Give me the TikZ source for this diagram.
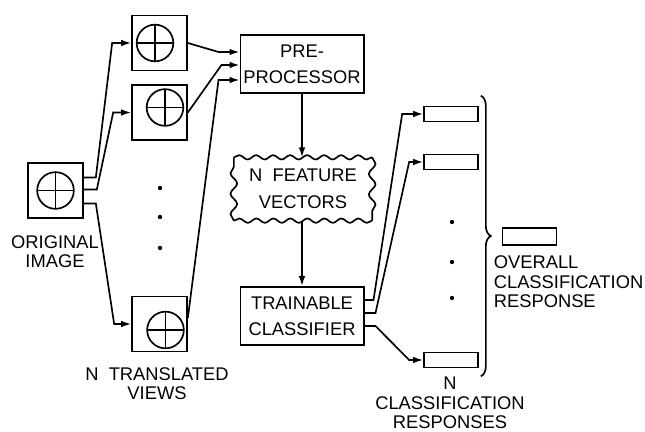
\documentclass[tikz,border=0pt]{standalone}
\usepackage{fontspec}
\setmainfont{Liberation Sans}
\usetikzlibrary{arrows.meta, positioning, calc, decorations.pathmorphing, decorations.pathreplacing}

\begin{document}
\begin{tikzpicture}[
        x=0.6pt, y=-0.6pt,
        line width=1pt,
        frame/.style={rectangle, draw, inner sep=0pt, minimum size=33pt},
        block/.style={rectangle, draw, inner sep=0pt,
                      minimum width=74pt, minimum height=35pt,
                      align=center, font=\fontsize{11}{15.6}\selectfont},
        cloudy/.style={rectangle, inner sep=0pt,
                       minimum width=82pt, minimum height=37pt,
                       align=center, font=\fontsize{11}{16.5}\selectfont},
        wavy/.style={decorate, decoration={snake, amplitude=1.3pt, segment length=10.2pt}},
        wavyside/.style={decorate, decoration={snake, amplitude=2pt, segment length=12.3pt}},
        slot/.style={rectangle, draw, inner sep=0pt,
                     minimum width=32.4pt, minimum height=9pt},
        lbl/.style={align=center, inner sep=0pt, font=\fontsize{11}{11.6}\selectfont},
        arrow/.style={-{Latex[length=6pt, width=4pt]}},
        pics/target/.style={code={
            \draw (0,0) circle (11pt);
            \draw (-11pt,0) -- (11pt,0) (0,-11pt) -- (0,11pt);
        }},
    ]
    \useasboundingbox (0,0) rectangle (645,432);

    % original image and translated views
    \node[frame] (orig) at (55.5,190.5) {};
    \node[frame] (view1) at (159.5,43) {};
    \node[frame] (view2) at (159.5,112.5) {};
    \node[frame] (viewN) at (159.5,324) {};
    \pic at (orig) {target};
    \pic at ($(view1)+(-4.5,0)$) {target};
    \pic at ($(view2)+(5.5,-5)$) {target};
    \pic at ($(viewN)+(6,6)$) {target};
    \foreach \y in {188,217,248}
        \fill (160,\y) circle (1.3pt);

    \node[lbl] (origtxt) at (55,252) {ORIGINAL\\IMAGE};
    \node[lbl] (viewtxt) at (157,384) {N\ \ TRANSLATED\\VIEWS};

    % processing chain
    \node[block] (pre) at (302,64) {PRE-\\PROCESSOR};
    \node[cloudy] (feat) at (303,189) {N\ \ FEATURE\\VECTORS};
    \draw[wavy] (feat.north west) -- (feat.north east);
    \draw[wavy] (feat.south east) -- (feat.south west);
    \draw[wavyside] (feat.north east) -- (feat.south east);
    \draw[wavyside] (feat.south west) -- (feat.north west);
    \node[block] (clf) at (302,316) {TRAINABLE\\CLASSIFIER};

    % responses
    \node[slot] (resp1) at (451,114) {};
    \node[slot] (resp2) at (451,162) {};
    \node[slot] (respN) at (451,360) {};
    \node[slot, minimum height=10pt] (overall) at (529.5,236.5) {};
    \foreach \y in {222,262,298}
        \fill (452,\y) circle (1.3pt);

    \node[lbl, anchor=west, align=left] (overtxt) at (493,282) {OVERALL\\CLASSIFICATION\\RESPONSE};
    \node[lbl] (resptxt) at (450,403) {N\\CLASSIFICATION\\RESPONSES};

    % connectors
    \draw[arrow] ($(orig.east)+(0,-13)$) -- ++(12,0) -- ($(view1.west)+(-19,0)$) -- (view1.west);
    \draw[arrow] ($(orig.east)+(0,-1)$) -- ++(13,0) -- ($(view2.west)+(-18,0)$) -- (view2.west);
    \draw[arrow] ($(orig.east)+(0,13)$) -- ++(12,0) -- ($(viewN.west)+(-17,0)$) -- (viewN.west);

    \draw[arrow] (view1.east) -- ($(pre.west)+(-21,-12)$) -- ($(pre.west)+(0,-12)$);
    \draw[arrow] (view2.east) -- ($(pre.west)+(-18,1)$) -- ($(pre.west)+(0,1)$);
    \draw[arrow] ($(viewN.east)+(0,-6)$) -- ($(pre.west)+(-21,16)$) -- ($(pre.west)+(0,16)$);

    \draw[arrow] (pre.south) -- (pre.south |- feat.north);
    \draw[arrow] (clf.north |- feat.south) -- (clf.north);

    \draw[arrow] ($(clf.east)+(0,-16)$) -- ++(9,0) -- ($(resp1.west)+(-21,0)$) -- (resp1.west);
    \draw[arrow] ($(clf.east)+(0,-3)$) -- ++(11,0) -- ($(resp2.west)+(-14,0)$) -- (resp2.west);
    \draw[arrow] ($(clf.east)+(0,10)$) -- ++(11,0) -- ($(respN.west)+(-14,0)$) -- (respN.west);

    \draw[decorate, decoration={brace, amplitude=6pt}]
        ($(resp1.north east)+(2,-10)$) -- ($(respN.south east)+(2,8)$);
\end{tikzpicture}
\end{document}
